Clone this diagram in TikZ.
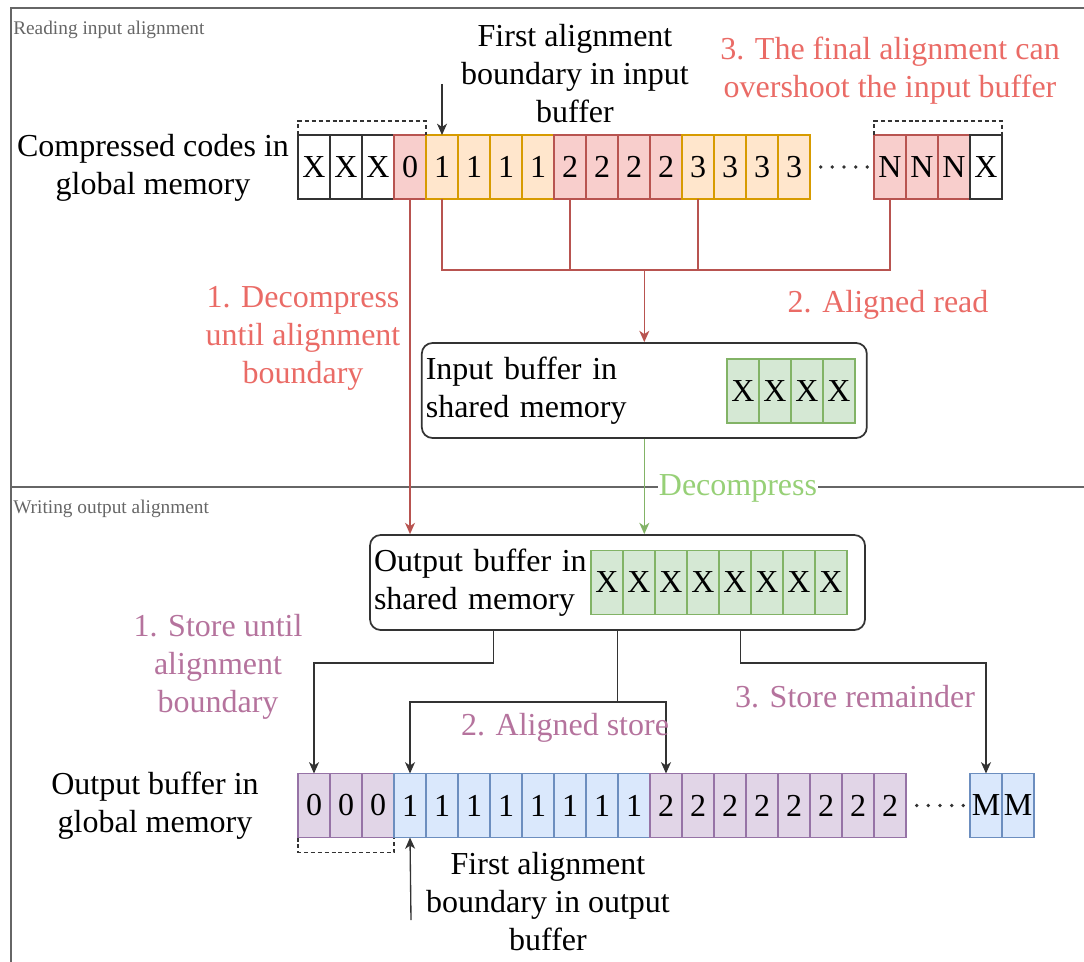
\documentclass[tikz,border=0pt]{standalone}
\usepackage{fontspec}
\setmainfont{Liberation Serif}
\usetikzlibrary{arrows.meta,calc}

\definecolor{wC}{HTML}{FFFFFF}
\definecolor{kS}{HTML}{333333}
\definecolor{rF}{HTML}{F8CECC}
\definecolor{rS}{HTML}{B85450}
\definecolor{oF}{HTML}{FFE6CC}
\definecolor{oS}{HTML}{D79B00}
\definecolor{gF}{HTML}{D5E8D4}
\definecolor{gS}{HTML}{82B366}
\definecolor{bF}{HTML}{DAE8FC}
\definecolor{bS}{HTML}{6C8EBF}
\definecolor{pF}{HTML}{E1D5E7}
\definecolor{pS}{HTML}{9673A6}
\definecolor{redT}{HTML}{EA6B66}
\definecolor{purT}{HTML}{B5739D}
\definecolor{grnT}{HTML}{97D077}
\definecolor{frameC}{HTML}{666666}

\begin{document}
\begin{tikzpicture}[x=0.75pt,y=-0.75pt,
  big/.style={font=\fontsize{24pt}{28.5pt}\selectfont},
  lbl/.style={big,align=center,inner sep=0pt},
  small/.style={font=\fontsize{14.5pt}{17pt}\selectfont,text=frameC,inner sep=0pt,anchor=west},
  cell/.style={draw,big,minimum width=24pt,minimum height=48pt,inner sep=0pt,outer sep=0pt,line width=1pt},
  rbox/.style={draw=kS,line width=1.3pt,rounded corners=8pt,big,align=left,inner xsep=3pt,inner ysep=0pt},
  tip/.style={-{Stealth[length=8.5pt,width=7.5pt,inset=2.5pt]}},
  redl/.style={draw=rS,line width=1pt},
  blkl/.style={draw=kS,line width=1pt},
  grnl/.style={draw=gS,line width=1pt},
  dotl/.style={line width=2.8pt,line cap=round,dash pattern=on 0pt off 8.75pt,dash phase=0.75pt,draw=kS},
  brk/.style={draw=kS,line width=1pt,dash pattern=on 3pt off 2.2pt},
  framel/.style={draw=frameC,line width=1.5pt}]

\clip (0,0) rectangle (1084,962);

% outer frame and divider between the two halves
\draw[framel] (11,1000) -- (11,8) -- (1100,8);
\draw[framel] (11,487) -- (1100,487);
\node[small] (lblRead) at (13,30) {Reading input alignment};
\node[small] (lblWrite) at (13,509) {Writing output alignment};

% ---------------- compressed codes in global memory ----------------
\node[lbl] (codesLbl) at (153,168) {Compressed codes in\\global memory};
\foreach \lab/\f/\d [count=\i from 0] in
  {X/wC/kS,X/wC/kS,X/wC/kS,0/rF/rS,1/oF/oS,1/oF/oS,1/oF/oS,1/oF/oS,
   2/rF/rS,2/rF/rS,2/rF/rS,2/rF/rS,3/oF/oS,3/oF/oS,3/oF/oS,3/oF/oS}
  \node[cell,fill=\f,draw=\d] (t\i) at ({298+32*\i+16},167) {\lab};
\foreach \lab/\f/\d [count=\i from 0] in {N/rF/rS,N/rF/rS,N/rF/rS,X/wC/kS}
  \node[cell,fill=\f,draw=\d] (n\i) at ({874+32*\i+16},167) {\lab};
\draw[dotl] (t15.east) -- (n0.west);

% dashed brackets over the partial blocks
\draw[brk] (t0.north west) -- ++(0,-14) -| (t3.north east);
\draw[brk] (n0.north west) -- ++(0,-14) -| (n3.north east);

% first alignment boundary (input)
\node[lbl] (firstIn) at (575,74) {First alignment\\boundary in input\\buffer};
\coordinate (firstInTail) at (442,84);
\draw[blkl,tip] (firstInTail) -- (t4.north);

\node[lbl,text=redT] (overshoot) at (890,71) {3. The final alignment can\\overshoot the input buffer};

% ---------------- input buffer in shared memory ----------------
\node[rbox,minimum width=333.75pt,minimum height=71.25pt,text width=327.75pt] (inbuf) at (644.3,390.5) {Input buffer in\\shared memory};
\foreach \i in {0,...,3}
  \node[cell,fill=gF,draw=gS] (gi\i) at ({727+32*\i+16},391) {X};

% aligned reads gathered into the input buffer
\draw[redl] (t4.south) -- ++(0,71) coordinate (bus) -| (n0.south);
\draw[redl] (t8.south) -- (t8.south |- bus);
\draw[redl] (t12.south) -- (t12.south |- bus);
\draw[redl,tip] (inbuf.north |- bus) -- (inbuf.north);
\node[lbl,text=redT] (alignedRead) at (888,305) {2. Aligned read};

% ---------------- output buffer in shared memory ----------------
\node[rbox,minimum width=371.25pt,minimum height=71.25pt,text width=365.25pt] (outbuf) at (617.5,582.5) {Output buffer in\\shared memory};
\foreach \i in {0,...,7}
  \node[cell,fill=gF,draw=gS] (go\i) at ({591+32*\i+16},582.5) {X};

% decompress until the alignment boundary
\draw[redl,tip] (t3.south) -- (t3.south |- outbuf.north);
\node[lbl,text=redT] (decUntil) at (303,338) {1. Decompress\\until alignment\\boundary};

% decompress from the input buffer
\draw[grnl,tip] (inbuf.south) -- (inbuf.south |- outbuf.north);
\node[lbl,text=grnT,fill=white,inner xsep=1pt,inner ysep=1pt] (decomp) at (738,488) {Decompress};

% ---------------- output buffer in global memory ----------------
\node[lbl] (outLbl) at (155,806) {Output buffer in\\global memory};
\foreach \lab/\f/\d [count=\i from 0] in
  {0/pF/pS,0/pF/pS,0/pF/pS,
   1/bF/bS,1/bF/bS,1/bF/bS,1/bF/bS,1/bF/bS,1/bF/bS,1/bF/bS,1/bF/bS,
   2/pF/pS,2/pF/pS,2/pF/pS,2/pF/pS,2/pF/pS,2/pF/pS,2/pF/pS,2/pF/pS}
  \node[cell,fill=\f,draw=\d] (b\i) at ({298+32*\i+16},805.5) {\lab};
\foreach \i in {0,1}
  \node[cell,fill=bF,draw=bS] (m\i) at ({970+32*\i+16},805.5) {M};
\draw[dotl] (b18.east) -- (m0.west);
\draw[brk] (b0.south west) -- ++(0,15) -| (b2.south east);

% stores from the output buffer
\draw[blkl,tip] ([xshift=-93pt]outbuf.south) -- ++(0,32) -| (b0.north);
\draw[blkl] (outbuf.south) -- ++(0,71) coordinate (midStore);
\draw[blkl,tip] (midStore) -| (b3.north);
\draw[blkl,tip] (midStore) -| (b11.north);
\draw[blkl,tip] ([xshift=92pt]outbuf.south) -- ++(0,32) -| (m0.north);

\node[lbl,text=purT] (storeUntil) at (218,667) {1. Store until\\alignment\\boundary};
\node[lbl,text=purT] (alignedStore) at (565,728) {2. Aligned store};
\node[lbl,text=purT] (storeRem) at (855,697) {3. Store remainder};

% first alignment boundary (output)
\node[lbl] (firstOut) at (548,902) {First alignment\\boundary in output\\buffer};
\coordinate (firstOutTail) at (411,920);
\draw[blkl,tip] (firstOutTail) -- (b3.south);

\end{tikzpicture}
\end{document}
